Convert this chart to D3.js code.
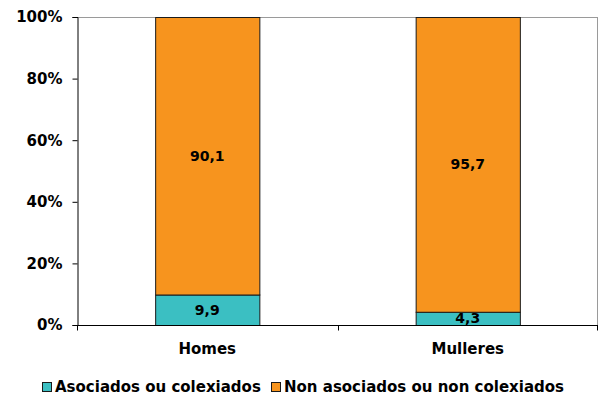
<!DOCTYPE html>
<html>
<head>
<meta charset="utf-8">
<script src="https://cdn.jsdelivr.net/npm/d3@7"></script>
<style>
  body { margin: 0; background: #fff; }
  svg text { font-family: "DejaVu Sans", Verdana, sans-serif; font-weight: bold; }
</style>
</head>
<body>
<svg id="chart" width="600" height="396"></svg>
<script>
// Share of people who are members of an association or professional body, by sex
const categories = ["Homes", "Mulleres"];
const asociados = [9.9, 4.3];
const nonAsociados = [90.1, 95.7];
const seriesNames = ["Asociados ou colexiados", "Non asociados ou non colexiados"];
const seriesColors = ["#3BBFC2", "#F7941E"];
const yTicks = [0, 20, 40, 60, 80, 100];

const svg = d3.select("#chart");
const margin = { top: 17, right: 2, bottom: 71, left: 77 };
const W = 600, H = 396;
const x0 = margin.left, x1 = W - margin.right;
const y0 = H - margin.bottom, y1 = margin.top;

const x = d3.scaleBand().domain(categories).range([x0, x1]).paddingInner(0.6).paddingOuter(0.3);
const xb = d3.scaleBand().domain(categories).range([x0, x1]);
const y = d3.scaleLinear().domain([0, 100]).range([y0, y1]);

const rows = categories.map((c, i) => ({ cat: c, a: asociados[i], n: nonAsociados[i] }));
const stack = d3.stack().keys(["a", "n"])(rows);

// plot frame (top and right in grey)
svg.append("line").attr("x1", x0).attr("x2", x1).attr("y1", y1 + 0.5).attr("y2", y1 + 0.5)
  .attr("stroke", "#9a9a9a");
svg.append("line").attr("x1", x1 - 0.5).attr("x2", x1 - 0.5).attr("y1", y1).attr("y2", y0)
  .attr("stroke", "#9a9a9a");

// bars
stack.forEach((layer, li) => {
  svg.append("g").selectAll("rect").data(layer).join("rect")
    .attr("x", d => x(d.data.cat) + 0.5)
    .attr("width", x.bandwidth())
    .attr("y", d => y(d[1]) + 0.5)
    .attr("height", d => y(d[0]) - y(d[1]))
    .attr("fill", seriesColors[li])
    .attr("stroke", "#1a1a1a")
    .attr("stroke-width", 1);
});

// value labels
stack.forEach((layer) => {
  svg.append("g").selectAll("text").data(layer).join("text")
    .attr("x", d => x(d.data.cat) + x.bandwidth() / 2)
    .attr("y", d => (y(d[0]) + y(d[1])) / 2 + 5)
    .attr("text-anchor", "middle")
    .attr("font-size", 14)
    .attr("fill", "#000")
    .text(d => d3.format(".1f")(d[1] - d[0]).replace(".", ","));
});

// y axis
const yAxis = d3.axisLeft(y).tickValues(yTicks).tickSize(5).tickFormat(d => d + "%");
const gy = svg.append("g").attr("transform", `translate(${x0 + 0.5},0)`).call(yAxis);
gy.select(".domain").attr("stroke", "#000");
gy.selectAll(".tick line").attr("stroke", "#000");
gy.selectAll(".tick text").attr("font-size", 15).attr("fill", "#000").attr("x", -15)
  .style("font-family", '"DejaVu Sans", Verdana, sans-serif').style("font-weight", "bold");

// x axis with ticks at band boundaries
const gx = svg.append("g").attr("transform", `translate(0,${y0 + 0.5})`);
gx.append("line").attr("x1", x0).attr("x2", x1).attr("stroke", "#000");
const bounds = categories.map(c => xb(c)).concat([x1 - 1]);
gx.selectAll("line.tk").data(bounds).join("line").attr("class", "tk")
  .attr("x1", d => Math.round(d) + 0.5).attr("x2", d => Math.round(d) + 0.5)
  .attr("y1", 0).attr("y2", 5).attr("stroke", "#000");
gx.selectAll("text").data(categories).join("text")
  .attr("x", c => x(c) + x.bandwidth() / 2)
  .attr("y", 28)
  .attr("text-anchor", "middle")
  .attr("font-size", 15)
  .text(c => c);

// legend
const legend = svg.append("g").attr("transform", "translate(0,392)");
const legendX = [42, 271];
seriesNames.forEach((name, i) => {
  legend.append("rect").attr("x", legendX[i] + 0.5).attr("y", -9.5).attr("width", 9).attr("height", 9)
    .attr("fill", seriesColors[i]).attr("stroke", "#1a1a1a");
  legend.append("text").attr("x", legendX[i] + 13).attr("y", 0).attr("font-size", 15).text(name);
});
</script>
</body>
</html>
